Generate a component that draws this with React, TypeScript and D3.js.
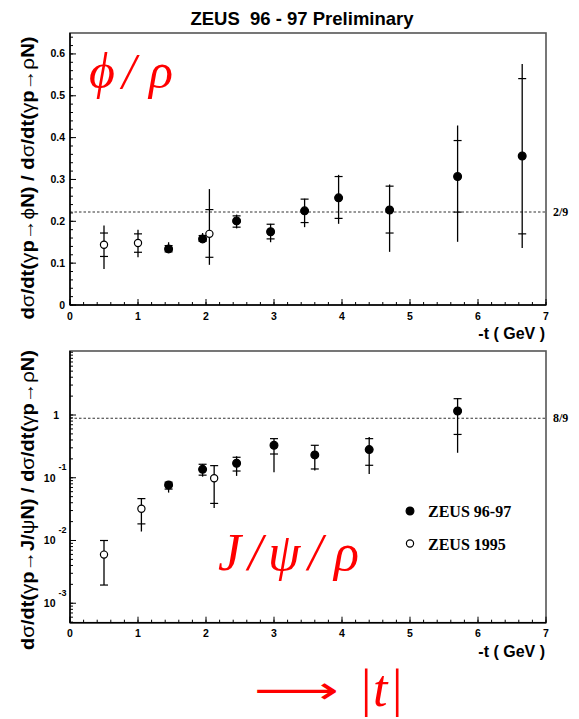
import React from 'react';
import * as d3 from 'd3';

// ---------- data ----------
const tTicks = [0, 1, 2, 3, 4, 5, 6, 7];
const phiYTicks = [0, 0.1, 0.2, 0.3, 0.4, 0.5, 0.6];
const jpsiYTicks = [0.001, 0.01, 0.1, 1];
const jpsiYTickExp = ['-3', '-2', '-1', ''];

// rows: [ -t, value, statLo, statHi, totLo, totHi ]
const phiZeus9697 = [
  [1.45, 0.134, 0.127, 0.142, 0.125, 0.150],
  [1.95, 0.158, 0.152, 0.166, 0.150, 0.172],
  [2.45, 0.201, 0.186, 0.213, 0.183, 0.216],
  [2.95, 0.175, 0.158, 0.193, 0.150, 0.194],
  [3.45, 0.225, 0.197, 0.253, 0.186, 0.254],
  [3.95, 0.256, 0.207, 0.307, 0.194, 0.311],
  [4.70, 0.227, 0.172, 0.284, 0.127, 0.288],
  [5.70, 0.307, 0.222, 0.393, 0.151, 0.429],
  [6.65, 0.356, 0.170, 0.541, 0.136, 0.576],
];
const phiZeus1995 = [
  [0.50, 0.144, 0.116, 0.172, 0.086, 0.190],
  [1.00, 0.148, 0.126, 0.170, 0.114, 0.180],
  [2.05, 0.170, 0.114, 0.228, 0.096, 0.277],
];
const jpsiZeus9697 = [
  [1.45, 0.0768, 0.066, 0.085, 0.058, 0.088],
  [1.95, 0.136, 0.110, 0.164, 0.104, 0.166],
  [2.45, 0.170, 0.128, 0.212, 0.107, 0.220],
  [3.00, 0.329, 0.239, 0.420, 0.122, 0.420],
  [3.60, 0.231, 0.138, 0.329, 0.130, 0.330],
  [4.40, 0.281, 0.158, 0.420, 0.115, 0.446],
  [5.70, 1.16, 0.49, 1.82, 0.25, 1.85],
];
const jpsiZeus1995 = [
  [0.50, 0.00596, 0.00195, 0.0100, 0.00195, 0.0100],
  [1.05, 0.0320, 0.0184, 0.0465, 0.0139, 0.0470],
  [2.12, 0.098, 0.039, 0.156, 0.033, 0.158],
];
const phiRefValue = 2 / 9;
const phiRefLabel = '2/9';
const jpsiRefValue = 8 / 9;
const jpsiRefLabel = '8/9';
const legendLabels = ['ZEUS 96-97', 'ZEUS 1995'];

// ---------- layout ----------
const W = 579, H = 719;
const X0 = 70, X1 = 546;
const SANS = '"Liberation Sans", Arial, Helvetica, sans-serif';
const SERIF = '"Liberation Serif", "Times New Roman", serif';

const xScale = d3.scaleLinear().domain([0, 7]).range([X0, X1]);
const yPhi = d3.scaleLinear().domain([0, 0.65]).range([305, 33]);
const yJpsi = d3.scaleLog().domain([Math.pow(10, -3.31), Math.pow(10, 1.02)]).range([622.7, 351]);

type Row = number[];

function Points({ rows, x, y, open }: { rows: Row[]; x: any; y: any; open: boolean }) {
  return (
    <g>
      {rows.map((r, i) => {
        const cx = x(r[0]);
        return (
          <g key={i}>
            <line x1={cx} x2={cx} y1={y(r[4])} y2={y(r[5])} stroke="#000" strokeWidth={1.3} />
            <line x1={cx - 4} x2={cx + 4} y1={y(r[2])} y2={y(r[2])} stroke="#000" strokeWidth={1.2} />
            <line x1={cx - 4} x2={cx + 4} y1={y(r[3])} y2={y(r[3])} stroke="#000" strokeWidth={1.2} />
            <circle cx={cx} cy={y(r[1])} r={open ? 3.6 : 3.9} fill={open ? '#fff' : '#000'} stroke="#000" strokeWidth={1.2} />
          </g>
        );
      })}
    </g>
  );
}

function XAxis({ yb, x, labelY, titleY }: { yb: number; x: any; labelY: number; titleY: number }) {
  const minor = d3.range(0, 7.0001, 0.2);
  return (
    <g>
      {minor.map((v, i) => (
        <line key={'m' + i} x1={x(v)} x2={x(v)} y1={yb} y2={yb - 3} stroke="#000" strokeWidth={1} />
      ))}
      {tTicks.map((v) => (
        <g key={v}>
          <line x1={x(v)} x2={x(v)} y1={yb} y2={yb - 6} stroke="#000" strokeWidth={1} />
          <text x={x(v)} y={labelY} textAnchor="middle" fontFamily={SANS} fontWeight="bold" fontSize={10.5}>{v}</text>
        </g>
      ))}
      <line x1={X0} x2={X1} y1={yb} y2={yb} stroke="#000" strokeWidth={1.5} />
      <text x={545} y={titleY} textAnchor="end" fontFamily={SANS} fontWeight="bold" fontSize={16}>-t ( GeV )</text>
    </g>
  );
}

function YLabel({ cy, len, middle }: { cy: number; len: number; middle: React.ReactNode }) {
  const g = { fontWeight: 'normal' as const, fontSize: 19 };
  return (
    <text transform={`translate(34,${cy}) rotate(-90)`} textAnchor="middle" fontFamily={SANS} fontWeight="bold" fontSize={18.5}
      textLength={len} lengthAdjust="spacingAndGlyphs">
      d<tspan {...g}>σ</tspan>/dt(<tspan {...g}>γ</tspan>p<tspan {...g}>→</tspan>{middle}N) / d<tspan {...g}>σ</tspan>/dt(<tspan {...g}>γ</tspan>p<tspan {...g}>→ρ</tspan>N)
    </text>
  );
}

export default function App() {
  const phiMinor = d3.range(0, 0.6401, 0.02);
  const logMinor: number[] = [];
  const [lo, hi] = yJpsi.domain();
  for (let e = -4; e <= 1; e++) for (let k = 1; k <= 9; k++) {
    const v = k * Math.pow(10, e);
    if (v >= lo && v <= hi) logMinor.push(v);
  }
  return (
    <svg width={W} height={H} viewBox={`0 0 ${W} ${H}`} style={{ position: 'fixed', left: 0, top: 0, background: '#fff' }}>
      <rect x={0} y={0} width={W} height={H} fill="#fff" />
      <text x={302} y={25} textAnchor="middle" fontFamily={SANS} fontWeight="bold" fontSize={18.5} style={{ whiteSpace: 'pre' }}>ZEUS  96 - 97 Preliminary</text>

      {/* ---------- top panel ---------- */}
      <rect x={X0} y={33} width={X1 - X0} height={305 - 33} fill="none" stroke="#555" strokeWidth={1.6} />
      <line x1={X0} x2={X1} y1={yPhi(phiRefValue)} y2={yPhi(phiRefValue)} stroke="#333" strokeWidth={1.1} strokeDasharray="2.5,2" />
      <text x={553} y={yPhi(phiRefValue) + 4} fontFamily={SERIF} fontWeight="bold" fontSize={12}>{phiRefLabel}</text>
      {phiMinor.map((v, i) => (
        <line key={i} x1={X0} x2={X0 + 3} y1={yPhi(v)} y2={yPhi(v)} stroke="#000" strokeWidth={1} />
      ))}
      {phiYTicks.map((v) => (
        <g key={v}>
          <line x1={X0} x2={X0 + 6} y1={yPhi(v)} y2={yPhi(v)} stroke="#000" strokeWidth={1} />
          <text x={65} y={yPhi(v) + 3.5} textAnchor="end" fontFamily={SANS} fontWeight="bold" fontSize={10.5}>{v === 0 ? '0' : v.toFixed(1)}</text>
        </g>
      ))}
      <line x1={X0} x2={X0} y1={33} y2={305} stroke="#000" strokeWidth={1.5} />
      <XAxis yb={305} x={xScale} labelY={320} titleY={339} />
      <Points rows={phiZeus9697} x={xScale} y={yPhi} open={false} />
      <Points rows={phiZeus1995} x={xScale} y={yPhi} open={true} />
      <YLabel cy={178} len={283} middle={<tspan fontWeight="normal" fontSize={19}>ϕ</tspan>} />
      <text y={88} fontFamily={SERIF} fontStyle="italic" fontSize={50} fill="#ff0000">
        <tspan x={89}>ϕ</tspan><tspan x={122}>/</tspan><tspan x={149}>ρ</tspan>
      </text>

      {/* ---------- bottom panel ---------- */}
      <rect x={X0} y={351} width={X1 - X0} height={622.7 - 351} fill="none" stroke="#555" strokeWidth={1.6} />
      <line x1={X0} x2={X1} y1={yJpsi(jpsiRefValue)} y2={yJpsi(jpsiRefValue)} stroke="#333" strokeWidth={1.1} strokeDasharray="2.5,2" />
      <text x={553} y={yJpsi(jpsiRefValue) + 4} fontFamily={SERIF} fontWeight="bold" fontSize={12}>{jpsiRefLabel}</text>
      {logMinor.map((v, i) => (
        <line key={i} x1={X0} x2={X0 + 3} y1={yJpsi(v)} y2={yJpsi(v)} stroke="#000" strokeWidth={1} />
      ))}
      {jpsiYTicks.map((v, i) => (
        <g key={v}>
          <line x1={X0} x2={X0 + 6} y1={yJpsi(v)} y2={yJpsi(v)} stroke="#000" strokeWidth={1} />
          {jpsiYTickExp[i] === '' ? (
            <text x={59} y={yJpsi(v) + 3.5} textAnchor="end" fontFamily={SANS} fontWeight="bold" fontSize={10.5}>1</text>
          ) : (
            <g>
              <text x={55.5} y={yJpsi(v) + 4} textAnchor="end" fontFamily={SANS} fontWeight="bold" fontSize={10.5}>10</text>
              <text x={58.5} y={yJpsi(v) - 7.5} fontFamily={SANS} fontWeight="bold" fontSize={9}>{jpsiYTickExp[i]}</text>
            </g>
          )}
        </g>
      ))}
      <line x1={X0} x2={X0} y1={351} y2={622.7} stroke="#000" strokeWidth={1.5} />
      <XAxis yb={622.7} x={xScale} labelY={637} titleY={656.5} />
      <Points rows={jpsiZeus9697} x={xScale} y={yJpsi} open={false} />
      <Points rows={jpsiZeus1995} x={xScale} y={yJpsi} open={true} />
      <YLabel cy={500} len={300} middle={<tspan>J/<tspan fontWeight="normal" fontSize={19}>ψ</tspan></tspan>} />

      {/* legend */}
      <circle cx={410} cy={511} r={3.9} fill="#000" stroke="#000" strokeWidth={1.2} />
      <text x={428} y={517} fontFamily={SERIF} fontWeight="bold" fontSize={16}>{legendLabels[0]}</text>
      <circle cx={410} cy={543.5} r={3.6} fill="#fff" stroke="#000" strokeWidth={1.2} />
      <text x={428} y={549.5} fontFamily={SERIF} fontWeight="bold" fontSize={16}>{legendLabels[1]}</text>

      <text y={570} fontFamily={SERIF} fontStyle="italic" fontSize={52} fill="#ff0000">
        <tspan x={218}>J</tspan><tspan x={248}>/</tspan><tspan x={268}>ψ</tspan><tspan x={308}>/</tspan><tspan x={334}>ρ</tspan>
      </text>

      {/* |t| arrow */}
      <text x={254} y={703} fontFamily='"DejaVu Sans", sans-serif' fontSize={38} fill="#ff0000" textLength={85} lengthAdjust="spacingAndGlyphs">⟶</text>
      <text y={706} fontFamily={SERIF} fontSize={52} fill="#ff0000">
        <tspan x={361}>|</tspan><tspan x={373} fontStyle="italic">t</tspan><tspan x={392}>|</tspan>
      </text>
    </svg>
  );
}
